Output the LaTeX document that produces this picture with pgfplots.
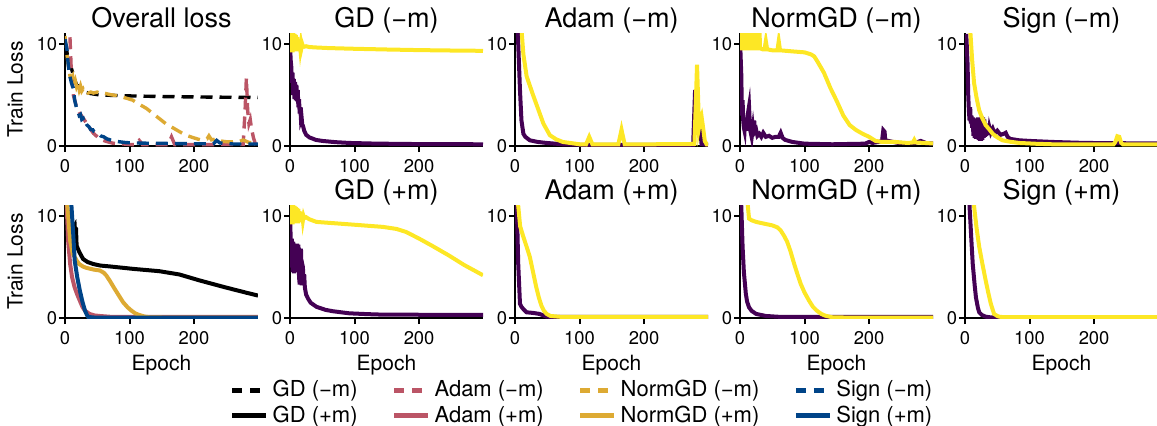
\documentclass[border=0pt]{standalone}
\usepackage{fontspec}
\setmainfont{TeX Gyre Heros}
\usepackage{pgfplots}
\pgfplotsset{compat=1.18}
\definecolor{vpurple}{HTML}{440154}
\definecolor{vyellow}{HTML}{FDE725}
\definecolor{tred}{HTML}{BB5566}
\definecolor{tgold}{HTML}{DDAA33}
\definecolor{tblue}{HTML}{004488}
\pgfplotsset{
  every axis title shift=0pt,
  panel/.style={
    scale only axis, width=96.5pt, height=56.5pt,
    xmin=0, xmax=299, ymin=0, ymax=11.1,
    axis x line*=bottom, axis y line*=left,
    axis line style={line width=1pt,-},
    every outer x axis line/.append style={-},
    every outer y axis line/.append style={-},
    xtick={0,100,200}, ytick={0,10},
    major tick style={line width=1pt, black},
    major tick length=3pt,
    tick align=outside,
    ticklabel style={font=\fontsize{9.2}{9.2}\selectfont},
    xticklabel style={inner sep=0.5pt, yshift=-3pt},
    yticklabel style={inner sep=0.75pt},
    /pgf/number format/assume math mode=true,
    title style={font=\fontsize{13.5}{13.5}\selectfont, at={(axis description cs:0.5,1)}, anchor=base, inner sep=0pt, yshift=3pt},
    xlabel style={font=\fontsize{10.5}{10.5}\selectfont, at={(axis description cs:0.5,0)}, anchor=base, inner sep=0pt, yshift=-26.4pt},
    ylabel style={font=\fontsize{10.5}{10.5}\selectfont, at={(axis description cs:-0.259,0.5)}, anchor=center, inner sep=0pt},
    anchor=south west,
  },
  pl/.style={vpurple, line width=2pt},
  yl/.style={vyellow, line width=2pt},
  dsh/.style={line width=1.7pt, dash pattern=on 6pt off 3.5pt},
  sol/.style={line width=2pt},
  ldsh/.style={line width=2.4pt, dash pattern=on 5pt off 4pt},
  lsol/.style={line width=2.4pt},
}
\begin{document}
\begin{tikzpicture}
\useasboundingbox (-32.5pt,-139.5pt) rectangle (546pt,73pt);
% ---------------- Row 1 ----------------
\begin{axis}[panel, at={(0pt,0pt)}, title={Overall loss}, ylabel={Train Loss}]
\addplot[dsh, black] coordinates {(0,10.1)(2,9.8)(5,8.2)(8,7.7)(10,7.6)(12,7.2)(15,6.5)(18,6.0)(20,5.9)(25,5.5)(30,5.3)(40,5.15)(50,5.05)(70,4.98)(100,4.92)(150,4.86)(200,4.82)(250,4.79)(299,4.77)};
\addplot[dsh, tred] coordinates {(0,20)(5,15)(10,7)(13,5)(18,3.8)(23,3.2)(28,2.75)(36,2.0)(44,1.25)(54,0.68)(64,0.45)(74,0.28)(100,0.15)(110,0.13)(113,0.4)(115,0.55)(117,0.4)(120,0.13)(160,0.13)(163,0.6)(165,0.9)(167,0.6)(170,0.13)(276,0.15)(279,3.5)(281,6.7)(283,3.5)(285,2.2)(287,2.6)(289,1.7)(292,0.8)(295,0.2)(299,0.15)};
\addplot[dsh, tgold] coordinates {(0,10.8)(2,9.5)(4,8.5)(6,7.5)(8,6.8)(10,6.5)(12,6.8)(14,6.0)(16,6.4)(18,5.8)(20,6.1)(22,5.5)(24,5.9)(26,5.4)(28,5.6)(30,5.3)(33,5.4)(36,5.2)(40,5.3)(44,5.2)(50,5.3)(55,5.15)(60,5.2)(70,5.05)(80,4.95)(95,4.7)(105,4.5)(115,4.1)(126,3.7)(140,3.0)(156,2.2)(173,1.57)(186,1.1)(197,0.85)(210,0.6)(220,0.7)(223,1.0)(227,0.6)(235,0.7)(240,0.5)(250,0.42)(259,0.4)(270,0.45)(276,0.59)(285,0.35)(299,0.3)};
\addplot[dsh, tblue] coordinates {(0,10.5)(3,9.5)(5,8)(7,7)(10,6.2)(13,5.65)(15,4.5)(18,3.7)(20,3.4)(22,3.0)(24,3.1)(26,2.6)(28,2.7)(30,2.2)(32,2.3)(34,2.06)(37,1.9)(40,1.6)(43,1.6)(45,1.4)(49,1.24)(52,1.2)(55,1.0)(60,0.9)(65,0.7)(70,0.6)(80,0.45)(95,0.33)(120,0.28)(160,0.25)(200,0.22)(230,0.22)(235,0.55)(240,0.3)(260,0.2)(299,0.2)};
\end{axis}

\begin{axis}[panel, at={(112.5pt,0pt)}, title={GD (−m)}]
\addplot[pl] coordinates {(0,10.2)(1,8.5)(2,7.8)(3,6.2)(4,7.2)(5,5.0)(6,6.6)(7,4.6)(8,6.3)(9,4.5)(10,6.0)(11,4.4)(12,5.5)(13,3.8)(14,4.6)(15,3.2)(16,3.8)(17,2.6)(18,2.8)(19,2.1)(20,2.0)(22,1.5)(25,1.1)(30,0.85)(40,0.6)(50,0.5)(70,0.38)(92,0.3)(130,0.24)(180,0.2)(240,0.18)(299,0.17)};
\addplot[yl] coordinates {(0,10)(1,11.2)(2,9.2)(3,11.2)(4,9.2)(5,11.1)(6,9.3)(7,11.0)(8,9.3)(9,10.9)(10,9.3)(11,10.7)(12,9.4)(13,10.5)(14,9.5)(15,10.3)(16,9.6)(17,10.1)(18,9.7)(19,10.0)(20,9.8)(22,9.75)(25,9.8)(30,9.72)(40,9.68)(60,9.62)(100,9.55)(150,9.48)(200,9.42)(250,9.38)(299,9.35)};
\end{axis}

\begin{axis}[panel, at={(225pt,0pt)}, title={Adam (−m)}]
\addplot[pl] coordinates {(0,20)(3,14)(5,10)(7.7,5.5)(10,2.5)(13,1.2)(16,0.9)(23,0.56)(35,0.4)(49,0.3)(74,0.17)(100,0.12)(150,0.1)(200,0.1)(276,0.1)(279,5.5)(281,4)(283,1.5)(285,2.5)(287,1.5)(289,0.2)(299,0.1)};
\addplot[yl] coordinates {(0,30)(5,20)(10,11.5)(13,9)(18,6.85)(28,5.0)(36,3.6)(44,2.2)(54,1.06)(64,0.65)(74,0.4)(100,0.17)(110,0.15)(113,0.6)(115,0.9)(117,0.6)(120,0.15)(160,0.15)(163,1.0)(165,1.6)(167,1.0)(170,0.15)(278,0.2)(280,4)(282,8.0)(284,4)(285,1.8)(287,2.5)(289,2.9)(291,2.0)(294,0.5)(297,0.15)(299,0.15)};
\end{axis}

\begin{axis}[panel, at={(337.5pt,0pt)}, title={NormGD (−m)}]
\addplot[pl] coordinates {(0,10.5)(2,7)(3,3)(4,4.5)(5,2.5)(6,1.8)(7,1.5)(8,2.8)(9,1.6)(10,2.2)(11,1.5)(12,3)(13,3.5)(14,3.9)(15,2.5)(16,1.5)(17,1.2)(18,2.0)(19,1.3)(20,1.8)(21,1.2)(22,2.5)(23,1.4)(25,1.6)(27,1.0)(30,1.2)(33,0.9)(36,1.3)(40,0.9)(45,1.0)(50,0.8)(55,0.9)(60,0.9)(63,1.3)(66,0.8)(70,0.6)(81,0.4)(100,0.23)(143,0.17)(194,0.23)(200,0.4)(205,0.3)(215,0.4)(220,0.5)(222,1.55)(224,1.4)(225,0.56)(245,0.3)(270,0.28)(280,0.5)(290,0.25)(299,0.25)};
\addplot[yl] coordinates {(0,12)(1,9.4)(2,12)(3,9.4)(4,12)(5,9.4)(6,12)(7,9.4)(8,12)(9,9.4)(10,12)(11,9.4)(12,12)(13,9.4)(14,12)(15,9.4)(16,12)(17,9.4)(18,12)(19,9.4)(20,12)(21,9.4)(22,12)(23,9.4)(24,12)(25,9.4)(26,12)(27,9.4)(28,12)(29,9.4)(30,12)(31,9.6)(35,9.5)(38,9.5)(40,10.3)(42,9.5)(50,9.4)(58,9.4)(60,10.3)(62,9.4)(80,9.3)(100,9.2)(110,9.0)(115,8.8)(120,8.3)(130,7.2)(140,5.7)(150,4.4)(160,3.0)(170,2.05)(180,1.56)(190,1.2)(200,0.9)(210,0.5)(220,0.4)(240,0.4)(260,0.3)(268,0.35)(270,0.6)(272,0.35)(299,0.25)};
\end{axis}

\begin{axis}[panel, at={(450pt,0pt)}, title={Sign (−m)}]
\addplot[pl] coordinates {(0,10)(2,11)(4,8)(5,5)(6,3.5)(7,2.5)(8,3.8)(9,2.2)(10,3.0)(11,1.8)(12,2.8)(13,1.0)(14,2.5)(15,0.8)(16,2.6)(17,0.7)(18,2.7)(19,0.8)(20,2.8)(21,0.6)(22,2.8)(23,0.5)(24,2.6)(25,0.5)(26,2.9)(27,0.6)(28,2.8)(29,0.8)(30,2.6)(31,0.9)(32,2.2)(33,1.0)(34,2.0)(35,1.1)(36,1.9)(37,1.2)(38,1.8)(40,1.3)(43,1.7)(46,1.2)(50,1.5)(55,1.1)(60,1.2)(63,1.3)(66,0.9)(70,0.7)(84,0.56)(100,0.5)(135,0.4)(186,0.3)(240,0.28)(270,0.25)(299,0.25)};
\addplot[yl] coordinates {(3,20)(8,11.5)(11,8.5)(14,6.2)(18,4.7)(22,3.5)(27,2.7)(32,2.05)(38,1.6)(43,1.2)(50,0.85)(58,0.56)(70,0.42)(84,0.3)(110,0.22)(135,0.17)(200,0.15)(230,0.15)(233,0.4)(236,0.96)(239,0.9)(242,0.3)(245,0.15)(299,0.15)};
\end{axis}

% ---------------- Row 2 ----------------
\begin{axis}[panel, at={(0pt,-86pt)}, ylabel={Train Loss}, xlabel={Epoch},
  legend columns=4,
  legend cell align=left,
  legend style={at={(axis description cs:2.684,-0.752)}, anchor=center, draw=none, fill=none,
    font=\fontsize{11}{11}\selectfont,
    /tikz/every even column/.append style={column sep=15pt},
    row sep=-1pt},
]
\addplot[sol, black, forget plot] coordinates {(0,10)(4,9.2)(8,8.6)(12,8.8)(15,9.1)(16,8.0)(17,8.9)(18,7.1)(22,6.5)(28,5.8)(35,5.5)(44,5.3)(55,5.15)(69,5.07)(105,4.83)(146,4.6)(177,4.28)(208,3.7)(249,3.0)(280,2.5)(299,2.2)};
\addplot[sol, tred, forget plot] coordinates {(0,20)(2,12)(3,10.5)(5,7.5)(8,5.3)(11,4.0)(15,3.0)(19,2.3)(23,1.7)(27,1.1)(31,0.72)(38,0.4)(46,0.25)(54,0.2)(70,0.12)(299,0.1)};
\addplot[sol, tgold, forget plot] coordinates {(0,16)(3,11.5)(5,10)(8,7.6)(12,6.3)(15,6.0)(18,5.65)(22,5.3)(28,5.05)(33,4.93)(45,4.75)(54,4.67)(60,4.45)(64,4.18)(70,3.6)(77,2.86)(84,2.15)(90,1.55)(97,1.05)(103,0.72)(109,0.45)(115,0.3)(123,0.15)(131,0.07)(150,0.05)(299,0.05)};
\addplot[sol, tblue, forget plot] coordinates {(0,30)(6,16)(10,11)(13,8)(15,5.65)(19,4.0)(23,2.7)(27,1.6)(31,0.72)(34,0.3)(36,0.1)(45,0.05)(299,0.05)};
\addlegendimage{ldsh, black}\addlegendentry{GD (−m)}
\addlegendimage{ldsh, tred}\addlegendentry{Adam (−m)}
\addlegendimage{ldsh, tgold}\addlegendentry{NormGD (−m)}
\addlegendimage{ldsh, tblue}\addlegendentry{Sign (−m)}
\addlegendimage{lsol, black}\addlegendentry{GD (+m)}
\addlegendimage{lsol, tred}\addlegendentry{Adam (+m)}
\addlegendimage{lsol, tgold}\addlegendentry{NormGD (+m)}
\addlegendimage{lsol, tblue}\addlegendentry{Sign (+m)}
\end{axis}

\begin{axis}[panel, at={(112.5pt,-86pt)}, title={GD (+m)}, xlabel={Epoch}]
\addplot[pl] coordinates {(0,10)(1,8.0)(2,5.0)(3,7.8)(4,4.5)(5,7.5)(6,4.4)(7,7.0)(8,4.5)(9,6.5)(10,5.0)(11,7.3)(12,5.5)(13,7.2)(14,4.0)(15,3.3)(16,5.5)(17,6.8)(18,3.2)(19,5.3)(20,5.0)(21,3.5)(22,4.3)(23,3.0)(25,2.3)(28,1.9)(32,1.5)(41,1.1)(55,0.8)(67,0.66)(92,0.46)(120,0.38)(144,0.33)(200,0.32)(299,0.32)};
\addplot[yl] coordinates {(0,10)(1,11.2)(2,9.2)(3,11.2)(4,9.2)(5,11.1)(6,9.3)(7,11.0)(8,9.3)(9,10.9)(10,9.3)(11,10.8)(12,9.3)(13,10.7)(14,9.4)(15,10.5)(16,9.4)(17,10.3)(18,9.5)(19,10.2)(20,9.6)(21,10.0)(22,9.8)(25,9.9)(30,9.7)(41,9.44)(60,9.35)(92,9.2)(144,8.95)(165,8.75)(180,8.45)(200,7.8)(220,7.1)(246,6.15)(270,5.2)(299,4.2)};
\end{axis}

\begin{axis}[panel, at={(225pt,-86pt)}, title={Adam (+m)}, xlabel={Epoch}]
\addplot[pl] coordinates {(0,15)(3,10.5)(5,5.3)(7.7,1.4)(10,1.1)(14,0.8)(18,0.56)(28,0.5)(38,0.4)(49,0.13)(60,0.1)(299,0.1)};
\addplot[yl] coordinates {(0,25)(3,14)(5,11)(8,9)(13,7.96)(18,7.0)(23,6.0)(28,4.5)(33,3.0)(37,2.0)(41,1.2)(45,0.7)(49,0.4)(55,0.2)(70,0.12)(299,0.1)};
\end{axis}

\begin{axis}[panel, at={(337.5pt,-86pt)}, title={NormGD (+m)}, xlabel={Epoch}]
\addplot[pl] coordinates {(0,12)(2,11)(4,7.0)(6,4.5)(9,2.4)(11,1.6)(14,1.05)(18,0.7)(25,0.4)(40,0.2)(60,0.12)(299,0.1)};
\addplot[yl] coordinates {(5,20)(10,12.5)(12,11.1)(14,9.77)(18,9.6)(25,9.44)(35,9.3)(50,9.1)(58,8.9)(63,8.6)(68,8.1)(73,7.5)(78,6.6)(84,5.3)(89,4.3)(94,3.36)(100,2.5)(107,1.7)(113,1.1)(119,0.72)(126,0.4)(132,0.23)(143,0.07)(160,0.05)(299,0.05)};
\end{axis}

\begin{axis}[panel, at={(450pt,-86pt)}, title={Sign (+m)}, xlabel={Epoch}]
\addplot[pl] coordinates {(3,20)(7,11)(10,7.5)(12,5.3)(15,3.2)(17,2.0)(20,1.0)(22,0.56)(26,0.3)(32,0.13)(40,0.06)(299,0.05)};
\addplot[yl] coordinates {(8,20)(14,11)(18,8.8)(22,7.0)(27,5.3)(32,3.7)(36,2.5)(40,1.4)(43,0.8)(45,0.4)(50,0.2)(53,0.13)(60,0.08)(299,0.08)};
\end{axis}
\end{tikzpicture}
\end{document}
